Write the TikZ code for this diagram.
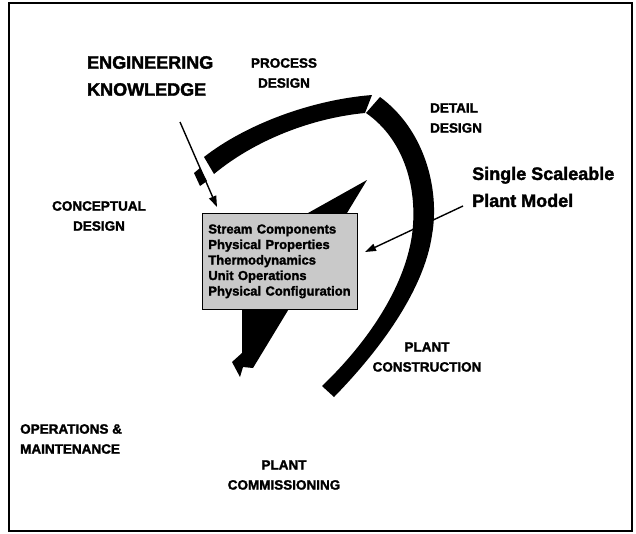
\documentclass[tikz,border=0pt]{standalone}
\usepackage{fontspec}
\setmainfont{Liberation Sans}
\newfontfamily\heavy{Liberation Sans Bold}[FakeBold=1.8]
\usetikzlibrary{arrows.meta,positioning}
\definecolor{ink}{HTML}{000000}
\definecolor{stipple}{HTML}{C9C9C9}
\tikzset{
  band/.style={fill=ink},
  pointer/.style={-{Triangle[length=11pt,width=7.5pt]}, ink, line width=1.4pt},
  phase/.style={text=ink, inner sep=0pt, align=center, font=\heavy\fontsize{13.5}{20}\selectfont},
  biglab/.style={text=ink, inner sep=0pt, align=left, font=\heavy\fontsize{18}{27}\selectfont},
  modelbox/.style={draw=ink, fill=stipple, line width=0.7pt, inner xsep=6pt, inner ysep=0pt,
    text width=143pt, align=left, minimum height=96pt, font=\heavy\fontsize{13}{15.5}\selectfont},
}

\begin{document}
\begin{tikzpicture}[x=1pt, y=-1pt]
  \useasboundingbox (0,0) rectangle (636,533);
  \draw[ink, line width=1.4pt] (9,3) rectangle (632,531);

  % the design band (two pieces) and its tab
  \fill[band] (204,157) .. controls (245,125) and (310,100) .. (372,95)
    -- (365,113) .. controls (312,118) and (255,140) .. (214,174) -- cycle;
  \fill[band] (194,173) -- (200,168) -- (207,181) -- (200,186) -- cycle;
  \fill[band] (380,97) .. controls (425,130) and (440,190) .. (432,235)
    .. controls (424,290) and (380,350) .. (334,397)
    -- (322,386) .. controls (365,345) and (404,290) .. (412,235)
    .. controls (418,190) and (405,140) .. (366,113) -- cycle;

  % wedge behind the model box
  \fill[band] (367,180) -- (242,250) -- (242,353) -- (232,362) -- (240,377)
    -- (243,367) -- (253,368) -- cycle;

  % plant model box
  \node[modelbox, anchor=north west] (model) at (202,213)
    {Stream Components\\Physical Properties\\Thermodynamics\\Unit Operations\\Physical Configuration};

  % lifecycle labels
  \node[phase] (process) at (284,73) {PROCESS\\DESIGN};
  \node[phase, align=left, anchor=west] (detail) at (430,118) {DETAIL\\DESIGN};
  \node[phase] (concept) at (99,216) {CONCEPTUAL\\DESIGN};
  \node[phase] (constr) at (427,357) {PLANT\\CONSTRUCTION};
  \node[phase, align=left, anchor=west] (opmaint) at (20,439) {OPERATIONS \&\\MAINTENANCE};
  \node[phase] (commis) at (284,475) {PLANT\\COMMISSIONING};

  % callouts
  \node[biglab, anchor=west] (know) at (87,76) {ENGINEERING\\KNOWLEDGE};
  \node[biglab, anchor=west] (single) at (472,187) {Single Scaleable\\Plant Model};

  \coordinate (knowtail) at (180,122);
  \coordinate (knowtip) at (217,207);
  \coordinate (singletail) at (463,206);
  \coordinate (singletip) at (365,252);
  \draw[pointer] (knowtail) -- (knowtip);
  \draw[pointer] (singletail) -- (singletip);
\end{tikzpicture}
\end{document}
